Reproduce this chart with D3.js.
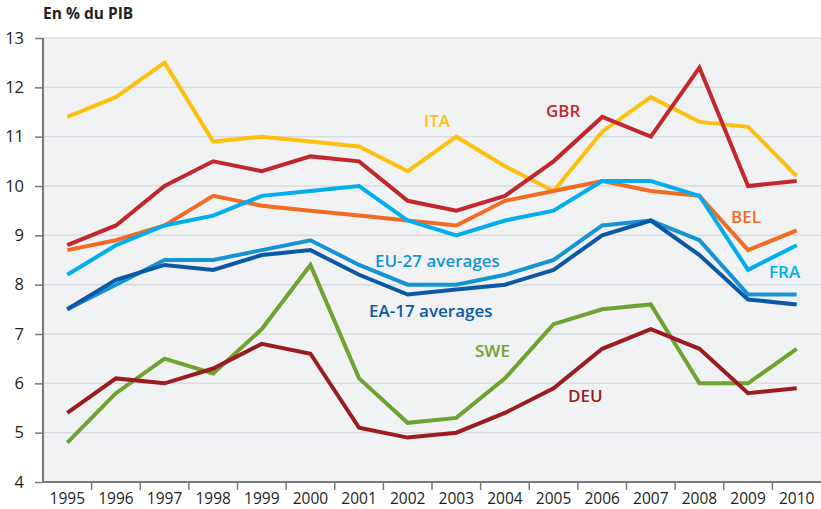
<!DOCTYPE html>
<html>
<head>
<meta charset="utf-8">
<script src="https://cdn.jsdelivr.net/npm/d3@7"></script>
<style>
  html, body { margin: 0; padding: 0; background: #ffffff; }
  svg { display: block; font-family: "Open Sans", "Noto Sans", sans-serif; }
</style>
</head>
<body>
<svg id="chart" width="821" height="509"></svg>
<script>
// Years on the horizontal axis
const years = [1995, 1996, 1997, 1998, 1999, 2000, 2001, 2002, 2003, 2004, 2005, 2006, 2007, 2008, 2009, 2010];
const yTicks = [4, 5, 6, 7, 8, 9, 10, 11, 12, 13];

// Values in % of GDP per country / aggregate
const ita  = [11.4, 11.8, 12.5, 10.9, 11.0, 10.9, 10.8, 10.3, 11.0, 10.4, 9.9, 11.1, 11.8, 11.3, 11.2, 10.2];
const bel  = [8.7, 8.9, 9.2, 9.8, 9.6, 9.5, 9.4, 9.3, 9.2, 9.7, 9.9, 10.1, 9.9, 9.8, 8.7, 9.1];
const fra  = [8.2, 8.8, 9.2, 9.4, 9.8, 9.9, 10.0, 9.3, 9.0, 9.3, 9.5, 10.1, 10.1, 9.8, 8.3, 8.8];
const gbr  = [8.8, 9.2, 10.0, 10.5, 10.3, 10.6, 10.5, 9.7, 9.5, 9.8, 10.5, 11.4, 11.0, 12.4, 10.0, 10.1];
const eu27 = [7.5, 8.0, 8.5, 8.5, 8.7, 8.9, 8.4, 8.0, 8.0, 8.2, 8.5, 9.2, 9.3, 8.9, 7.8, 7.8];
const ea17 = [7.5, 8.1, 8.4, 8.3, 8.6, 8.7, 8.2, 7.8, 7.9, 8.0, 8.3, 9.0, 9.3, 8.6, 7.7, 7.6];
const swe  = [4.8, 5.8, 6.5, 6.2, 7.1, 8.4, 6.1, 5.2, 5.3, 6.1, 7.2, 7.5, 7.6, 6.0, 6.0, 6.7];
const deu  = [5.4, 6.1, 6.0, 6.3, 6.8, 6.6, 5.1, 4.9, 5.0, 5.4, 5.9, 6.7, 7.1, 6.7, 5.8, 5.9];

const series = [
  { name: "ITA", values: ita,  color: "#fdc010", label: "ITA", lx: 424, ly: 127 },
  { name: "BEL", values: bel,  color: "#f26b22", label: "BEL", lx: 731, ly: 223 },
  { name: "FRA", values: fra,  color: "#00aeef", label: "FRA", lx: 769, ly: 278 },
  { name: "GBR", values: gbr,  color: "#c1272d", label: "GBR", lx: 546, ly: 117 },
  { name: "EU27", values: eu27, color: "#1593d4", label: "EU-27 averages", lx: 375, ly: 267 },
  { name: "EA17", values: ea17, color: "#0b59a6", label: "EA-17 averages", lx: 369, ly: 317 },
  { name: "SWE", values: swe,  color: "#6ea32f", label: "SWE", lx: 475, ly: 357 },
  { name: "DEU", values: deu,  color: "#9b1c20", label: "DEU", lx: 568, ly: 402 }
];

const svg = d3.select("#chart");
const plotLeft = 43, plotRight = 821, plotTop = 38, plotBottom = 482;

const x = d3.scaleBand().domain(years).range([plotLeft, plotRight]).padding(0);
const y = d3.scaleLinear().domain([4, 13]).range([plotBottom, plotTop]);
const cx = d => x(d) + x.bandwidth() / 2;

// Plot background
svg.append("rect")
  .attr("x", plotLeft).attr("y", plotTop)
  .attr("width", plotRight - plotLeft).attr("height", plotBottom - plotTop)
  .attr("fill", "#f1f2f4");

// Horizontal gridlines
svg.append("g").selectAll("line")
  .data(yTicks.filter(t => t > 4))
  .join("line")
  .attr("x1", plotLeft).attr("x2", plotRight)
  .attr("y1", d => y(d)).attr("y2", d => y(d))
  .attr("stroke", "#dadbde").attr("stroke-width", 1.5);

// Y axis
const yAxis = svg.append("g")
  .attr("transform", `translate(${plotLeft},0)`)
  .call(d3.axisLeft(y).tickValues(yTicks).tickSize(8).tickPadding(11).tickFormat(d3.format("d")));
yAxis.select(".domain").attr("stroke", "#7a7a7a").attr("stroke-width", 2)
  .attr("d", `M0,${plotTop}V${plotBottom}`);
yAxis.selectAll(".tick line").attr("stroke", "#7a7a7a").attr("stroke-width", 1.5);
yAxis.selectAll(".tick text").attr("font-size", 16.5).attr("fill", "#231f20")
  .attr("font-family", "'Open Sans', sans-serif");

// X axis with ticks at category boundaries
const xg = svg.append("g");
xg.append("line")
  .attr("x1", plotLeft - 1).attr("x2", plotRight)
  .attr("y1", plotBottom).attr("y2", plotBottom)
  .attr("stroke", "#7a7a7a").attr("stroke-width", 2);
xg.selectAll(".xt")
  .data(years.slice(1))
  .join("line")
  .attr("class", "xt")
  .attr("x1", d => x(d)).attr("x2", d => x(d))
  .attr("y1", plotBottom).attr("y2", plotBottom + 8)
  .attr("stroke", "#7a7a7a").attr("stroke-width", 1.5);
xg.selectAll("text")
  .data(years)
  .join("text")
  .attr("x", d => cx(d)).attr("y", 504)
  .attr("text-anchor", "middle")
  .attr("font-size", 15.5)
  .attr("fill", "#231f20")
  .text(d => d);

// Unit title
svg.append("text")
  .attr("x", 43).attr("y", 19)
  .attr("font-size", 15.5).attr("font-weight", 700)
  .attr("fill", "#231f20")
  .text("En % du PIB");

// Lines
const line = d3.line()
  .x((d, i) => cx(years[i]))
  .y(d => y(d));

svg.append("g").selectAll("path")
  .data(series)
  .join("path")
  .attr("d", d => line(d.values))
  .attr("fill", "none")
  .attr("stroke", d => d.color)
  .attr("stroke-width", 4)
  .attr("stroke-linejoin", "miter")
  .attr("stroke-miterlimit", 10);

// Series labels
svg.append("g").selectAll("text")
  .data(series)
  .join("text")
  .attr("x", d => d.lx).attr("y", d => d.ly)
  .attr("font-size", 17).attr("font-weight", 600)
  .attr("fill", d => d.color)
  .text(d => d.label);
</script>
</body>
</html>
